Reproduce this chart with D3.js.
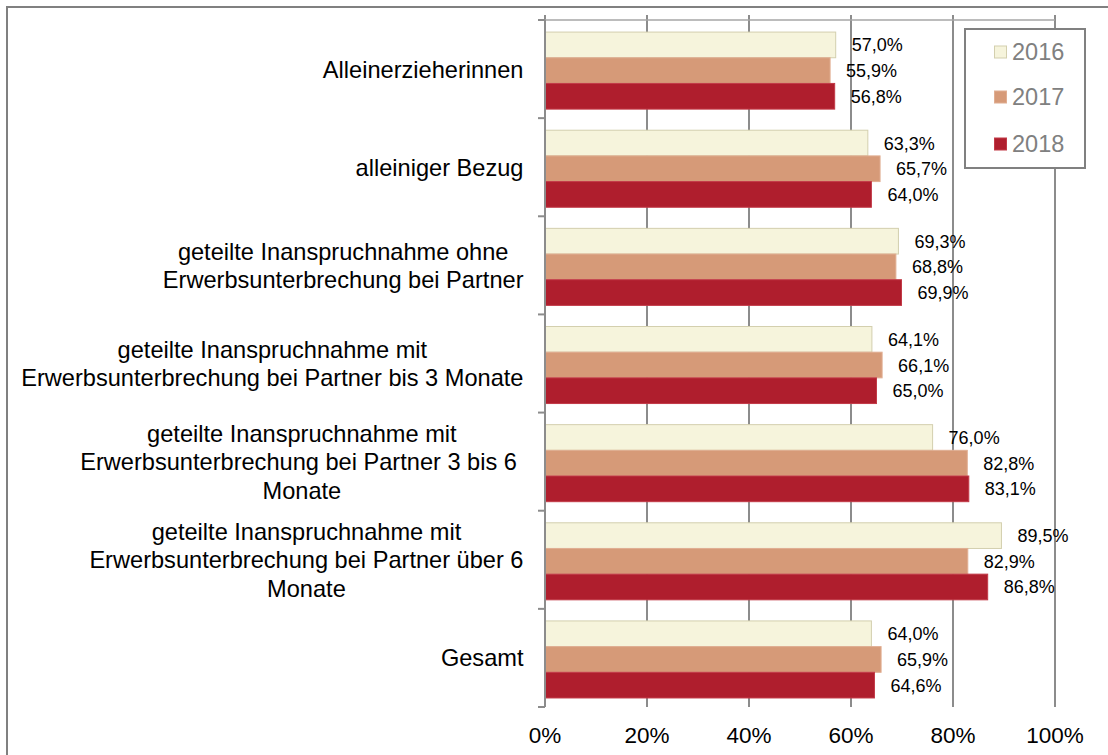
<!DOCTYPE html>
<html><head><meta charset="utf-8">
<script src="https://cdn.jsdelivr.net/npm/d3@7"></script>
<style>body{margin:0;background:#fff}svg{display:block}text{font-family:"Liberation Sans",Arial,sans-serif}</style>
</head><body>
<svg id="c" width="1108" height="755"></svg>
<script>
const categories = [
  ["Alleinerzieherinnen"],
  ["alleiniger Bezug"],
  ["geteilte Inanspruchnahme ohne", "Erwerbsunterbrechung bei Partner"],
  ["geteilte Inanspruchnahme mit", "Erwerbsunterbrechung bei Partner bis 3 Monate"],
  ["geteilte Inanspruchnahme mit", "Erwerbsunterbrechung bei Partner 3 bis 6 ", "Monate"],
  ["geteilte Inanspruchnahme mit", "Erwerbsunterbrechung bei Partner über 6", "Monate"],
  ["Gesamt"]
];
const years = ["2016", "2017", "2018"];
const values2016 = [57.0, 63.3, 69.3, 64.1, 76.0, 89.5, 64.0];
const values2017 = [55.9, 65.7, 68.8, 66.1, 82.8, 82.9, 65.9];
const values2018 = [56.8, 64.0, 69.9, 65.0, 83.1, 86.8, 64.6];
const xTicks = [0, 20, 40, 60, 80, 100];

const series = [values2016, values2017, values2018];
const fills = ["#F6F4DC", "#D69A78", "#AF1E2D"];
const strokes = ["#D3CFAE", "#E0AE92", "#C23A47"];

const svg = d3.select("#c");
const L = 545, R = 1055, T = 20, B = 707;

// outer frame (left + top)
svg.append("path").attr("d", `M7,755 V7 H1108`).attr("fill", "none").attr("stroke", "#808080").attr("stroke-width", 2);

const x = d3.scaleLinear().domain([0, 100]).range([L, R]);
const idx = categories.map((d, i) => i);
const y0 = d3.scaleBand().domain(idx).range([T, B]);
const bw = y0.bandwidth();
const y1 = d3.scaleBand().domain(years).range([bw * 0.123, bw * 0.908]);

// gridlines
svg.append("g").selectAll("line").data(xTicks).join("line")
  .attr("x1", d => x(d)).attr("x2", d => x(d)).attr("y1", 15).attr("y2", B)
  .attr("stroke", "#8C8C8C").attr("stroke-width", 2);
// top axis line
svg.append("line").attr("x1", L).attr("x2", R).attr("y1", T).attr("y2", T)
  .attr("stroke", "#A6A6A6").attr("stroke-width", 1.5);

// bars
const g = svg.append("g");
series.forEach((vals, s) => {
  g.selectAll(null).data(vals).join("rect")
    .attr("x", L)
    .attr("y", (d, i) => y0(i) + y1(years[s]))
    .attr("width", d => x(d) - L)
    .attr("height", y1.bandwidth())
    .attr("fill", fills[s]).attr("stroke", strokes[s]).attr("stroke-width", 1);
  g.selectAll(null).data(vals).join("text")
    .attr("x", d => x(d) + 16)
    .attr("y", (d, i) => y0(i) + y1(years[s]) + y1.bandwidth() / 2)
    .attr("dy", "0.36em")
    .attr("font-size", 18).attr("fill", "#000")
    .text(d => d.toFixed(1).replace(".", ",") + "%");
});

// left axis
const yAxis = svg.append("g");
yAxis.append("line").attr("x1", L).attr("x2", L).attr("y1", T).attr("y2", B)
  .attr("stroke", "#8C8C8C").attr("stroke-width", 2);
const bounds = idx.map(i => y0(i)).concat([B]);
yAxis.selectAll("line.t").data(bounds).join("line").attr("class", "t")
  .attr("x1", L - 7).attr("x2", L).attr("y1", d => d).attr("y2", d => d)
  .attr("stroke", "#8C8C8C").attr("stroke-width", 2);

// category labels
const lh = 28.5;
categories.forEach((lines, i) => {
  const cy = y0(i) + bw / 2;
  const t = svg.append("text").attr("font-size", 23.6).attr("fill", "#000")
    .attr("text-anchor", "middle").style("white-space", "pre");
  const spans = lines.map((ln, k) => t.append("tspan")
    .attr("y", cy + (k - (lines.length - 1) / 2) * lh).attr("dy", "0.36em").text(ln));
  const maxW = d3.max(spans, sp => sp.node().getComputedTextLength());
  const cx = 523.5 - maxW / 2;
  spans.forEach(sp => sp.attr("x", cx));
});

// x tick labels
svg.append("g").selectAll("text").data(xTicks).join("text")
  .attr("x", d => x(d)).attr("y", 743).attr("text-anchor", "middle")
  .attr("font-size", 22.5).attr("fill", "#000").text(d => d + "%");

// legend
const lg = svg.append("g");
lg.append("rect").attr("x", 965).attr("y", 29).attr("width", 120).attr("height", 139)
  .attr("fill", "#fff").attr("stroke", "#808080").attr("stroke-width", 2);
const ly = [52, 97, 144];
years.forEach((yr, s) => {
  lg.append("rect").attr("x", 994.5).attr("y", ly[s] - 6).attr("width", 12).attr("height", 12)
    .attr("fill", fills[s]).attr("stroke", strokes[s]).attr("stroke-width", 1);
  lg.append("text").attr("x", 1012).attr("y", ly[s]).attr("dy", "0.36em")
    .attr("font-size", 23.5).attr("fill", "#808080").text(yr);
});
</script>
</body></html>
